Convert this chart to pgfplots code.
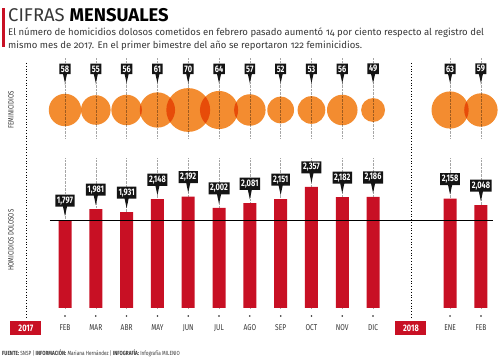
\documentclass[border=0pt]{standalone}
\usepackage{pgfplots}
\pgfplotsset{compat=1.18}
\usepackage{pgfplotstable}
\usepackage{fontspec}
\setmainfont{Fira Sans}
\newfontfamily\cond[FakeStretch=0.78]{Fira Sans}
\newfontfamily\subf[Numbers=OldStyle]{Fira Sans}
\usetikzlibrary{shapes.callouts}
\definecolor{barred}{RGB}{200,16,36}
\definecolor{circ}{RGB}{243,140,48}
\definecolor{txt}{RGB}{55,55,55}

\pgfplotstableread{
x v
1 58
2 55
3 56
4 61
5 70
6 64
7 57
8 52
9 53
10 56
11 49
13.5 63
14.5 59
}\fem
\pgfplotstableread{
x v
1 1797
2 1981
3 1931
4 2148
5 2192
6 2002
7 2081
8 2151
9 2357
10 2182
11 2186
13.5 2158
14.5 2048
}\hom

\tikzset{
  callbox/.style={rectangle callout, fill=black!92, text=white,
    font=\cond\bfseries\fontsize{9.5}{9.5}\selectfont,
    inner xsep=1.6bp, inner ysep=1.9bp, callout pointer width=4bp},
}
\pgfplotsset{
  common/.style={scale only axis, width=500bp, anchor=south west,
    xmin=-1.11, xmax=15.12, axis line style={draw=none}, major tick length=0pt,
    xtick={1,2,3,4,5,6,7,8,9,10,11,13.5,14.5}, ytick=\empty,
    major grid style={densely dotted, black!35, line width=0.5pt},
    /pgf/number format/assume math mode=true},
}

\begin{document}
\begin{tikzpicture}
\path[use as bounding box] (0bp,0bp) rectangle (500bp,358bp);

% title block
\fill[barred] (2bp,350bp) rectangle (4.5bp,311bp);
\node[anchor=base west, inner sep=0pt, font=\fontsize{18.5}{18.5}\selectfont] at (8bp,336.5bp)
  {\textcolor{txt}{CIFRAS} \textbf{MENSUALES}};
\node[anchor=base west, inner sep=0pt, text=txt, font=\subf\fontsize{9.6}{9.6}\selectfont] at (8bp,322bp)
  {El número de homicidios dolosos cometidos en febrero pasado aumentó 14 por ciento respecto al registro del};
\node[anchor=base west, inner sep=0pt, text=txt, font=\subf\fontsize{9.6}{9.6}\selectfont] at (8bp,309.5bp)
  {mismo mes de 2017. En el primer bimestre del año se reportaron 122 feminicidios.};

% side labels
\node[rotate=90, text=txt, font=\cond\fontsize{7.8}{7.8}\selectfont] at (11bp,248bp) {FEMINICIDIOS};
\node[rotate=90, text=txt, font=\cond\fontsize{7.8}{7.8}\selectfont] at (11bp,118bp) {HOMICIDIOS DOLOSOS};

% separators
\draw[black, dotted, line width=0.8pt] (26bp,295bp) -- (26bp,40bp);
\draw[black, dotted, line width=0.8pt] (411bp,295bp) -- (411bp,40bp);

% feminicidios
\begin{axis}[common, at={(0bp,220bp)}, height=80bp, ymin=0, ymax=80,
  xticklabels={}, xmajorgrids, clip=false]
\addplot[scatter, only marks, mark=*, blend mode=multiply, color=circ,
  point meta=explicit,
  mark options={draw opacity=0, fill=circ},
  scatter/use mapped color={draw opacity=0, fill=circ},
  visualization depends on={\thisrow{v} \as \val},
  scatter/@pre marker code/.append style={/tikz/mark size={12+(\val-49)*0.476}}]
  table[x=x, y expr=28, meta=v] {\fem};
\addplot[only marks, mark=*, mark size=0.01pt, mark options={draw=none, fill=none},
  nodes near coords, point meta=explicit,
  every node near coord/.append style={callbox, callout relative pointer={(0bp,-9bp)}, anchor=pointer}]
  table[x=x, y expr=54, meta=v] {\fem};
\end{axis}

% homicidios dolosos
\begin{axis}[common, at={(0bp,50bp)}, height=150bp, ymin=320, ymax=2841,
  xticklabels={FEB,MAR,ABR,MAY,JUN,JUL,AGO,SEP,OCT,NOV,DIC,ENE,FEB},
  xticklabel style={anchor=center, yshift=-20bp, text=txt, font=\cond\fontsize{8.5}{8.5}\selectfont},
  extra x ticks={-0.27,12.23}, extra x tick labels={2017,2018},
  extra x tick style={grid=none, xticklabel style={fill=barred, text=white,
    font=\cond\bfseries\fontsize{9.5}{9.5}\selectfont, minimum width=31bp, minimum height=14bp,
    inner sep=0pt}},
  xmajorgrids,
  /pgf/number format/1000 sep={,}]
\addplot[ybar, bar width=13bp, fill=barred, draw=none,
  nodes near coords, point meta=explicit,
  every node near coord/.append style={callbox, callout relative pointer={(0bp,-9.5bp)}, anchor=pointer, yshift=3bp}]
  table[x=x, y=v, meta=v] {\hom};
\draw[black, line width=0.8pt] (axis cs:0.51,1797) -- (axis cs:14.9,1797);
\end{axis}

% small dots under bars
\begin{axis}[common, at={(0bp,38bp)}, height=8bp, ymin=0, ymax=1, xticklabels={}]
\addplot[only marks, mark=*, mark size=0.6pt, black!75] table[x=x, y expr=0.5] {\hom};
\end{axis}

% footer
\node[anchor=base west, inner sep=0pt, text=txt, font=\cond\fontsize{6}{6}\selectfont] at (2bp,3bp)
  {\textbf{FUENTE:} SNSP | \textbf{INFORMACIÓN:} Mariana Hernández | \textbf{INFOGRAFÍA:} Infografía MILENIO};
\end{tikzpicture}
\end{document}
